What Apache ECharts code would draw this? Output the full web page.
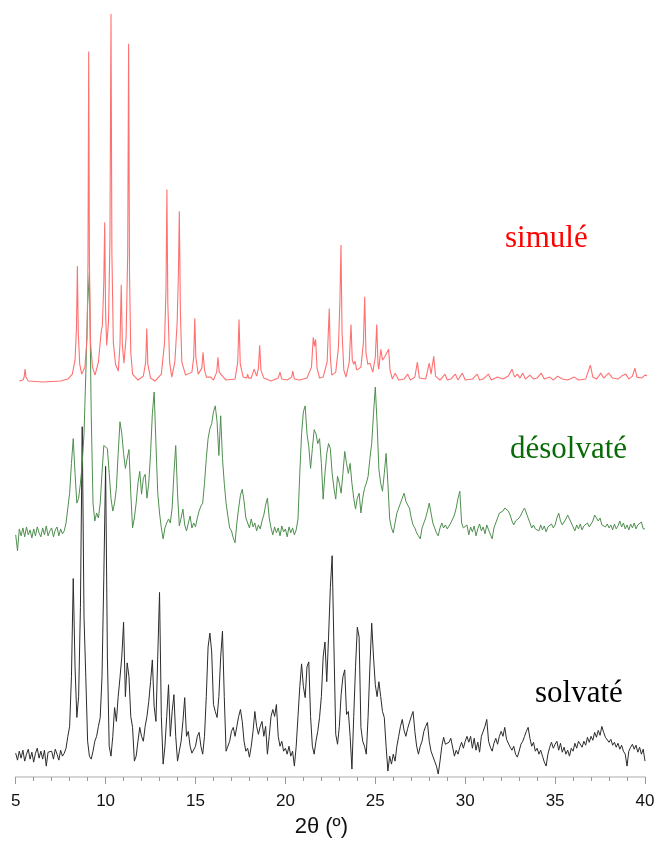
<!DOCTYPE html>
<html lang="fr">
<head>
    <meta charset="UTF-8">
    <title>DRX - simulé / désolvaté / solvaté</title>
    <style>
        html, body { margin: 0; padding: 0; background: #fff; }
    </style>
</head>
<body>
    <div id="main" style="width: 658px;height:843px;"></div>

    <script src="https://cdn.jsdelivr.net/npm/echarts@6/dist/echarts.min.js"></script>
    <script>
        // x ticks
        const xTicks = [5, 10, 15, 20, 25, 30, 35, 40];

        // simulated pattern: [2theta, intensity]
        const simule = [
            [5.2,1],[5.4,2],[5.47,5],[5.52,13],[5.57,5],[5.7,1],[6.5,0],[7.5,1],[7.9,3],[8.15,8],
            [8.3,22],[8.38,55],[8.43,117],[8.48,50],[8.56,18],[8.67,8],[8.85,15],[8.97,45],[9.02,120],[9.06,333],
            [9.1,120],[9.16,40],[9.27,15],[9.41,7],[9.6,20],[9.75,50],[9.82,57],[9.9,100],[9.95,161],[10.0,70],
            [10.06,37],[10.16,60],[10.24,140],[10.3,371],[10.35,130],[10.43,40],[10.55,18],[10.71,11],[10.8,38],[10.87,98],
            [10.93,38],[11.02,19],[11.14,45],[11.23,130],[11.28,341],[11.33,110],[11.4,30],[11.5,8],[11.8,2],[12.1,6],
            [12.23,20],[12.29,54],[12.35,18],[12.5,4],[12.75,1],[13.1,8],[13.28,40],[13.36,95],[13.41,194],[13.46,80],
            [13.56,20],[13.68,5],[13.85,20],[13.98,60],[14.05,110],[14.1,172],[14.16,70],[14.24,20],[14.32,15],[14.45,7],
            [14.8,10],[14.9,25],[14.96,64],[15.02,25],[15.15,8],[15.35,14],[15.42,30],[15.5,12],[15.61,5],[15.85,5],
            [16.0,2],[16.18,10],[16.25,25],[16.32,10],[16.38,8],[16.55,5],[16.7,2],[17.2,3],[17.35,20],[17.42,63],
            [17.49,18],[17.65,5],[17.85,4],[17.9,8],[17.96,4],[18.1,4],[18.26,13],[18.4,6],[18.5,14],[18.57,37],
            [18.64,12],[18.8,4],[19.2,1],[19.6,4],[19.7,10],[19.8,3],[20.1,2],[20.35,5],[20.41,11],[20.5,3],
            [20.8,2],[21.2,4],[21.45,15],[21.55,45],[21.62,36],[21.68,43],[21.76,14],[21.9,4],[22.1,5],[22.32,20],
            [22.44,74],[22.5,25],[22.58,7],[22.8,10],[22.95,35],[23.03,80],[23.09,138],[23.15,50],[23.25,12],[23.37,5],
            [23.55,20],[23.65,58],[23.72,22],[23.8,18],[23.87,21],[23.97,12],[24.2,15],[24.34,40],[24.41,86],[24.48,30],
            [24.58,18],[24.7,19],[24.86,10],[25.0,25],[25.08,58],[25.15,18],[25.19,13],[25.31,33],[25.4,22],[25.54,26],
            [25.65,25],[25.74,33],[25.82,12],[25.95,3],[26.1,9],[26.3,2],[26.6,3],[26.8,8],[26.95,2],[27.2,5],
            [27.34,20],[27.45,4],[27.8,3],[28.0,19],[28.1,8],[28.25,26],[28.35,6],[28.6,2],[28.88,8],[29.0,2],
            [29.2,3],[29.45,8],[29.6,2],[29.84,9],[30.0,2],[30.4,3],[30.67,8],[30.8,2],[31.0,3],[31.29,8],
            [31.45,2],[31.8,5],[32.1,3],[32.4,6],[32.6,13],[32.75,5],[32.9,8],[33.05,4],[33.2,9],[33.35,3],
            [33.6,7],[33.8,3],[34.0,4],[34.22,9],[34.4,3],[34.7,5],[34.9,2],[35.14,6],[35.4,3],[35.7,2],
            [36.07,5],[36.3,2],[36.7,3],[36.96,17],[37.1,5],[37.3,3],[37.54,9],[37.7,4],[37.98,9],[38.2,4],
            [38.5,3],[38.7,6],[38.93,8],[39.1,3],[39.3,6],[39.44,14],[39.55,5],[39.8,4],[40.0,7],[40.1,5],
            [40.2,6]
        ];

        // measured patterns, one value every 0.1 deg from 5.0 to 40.0 (one row per degree)
        const scanStart = 5.0;
        const scanStep = 0.1;

        const desolvate = [
            -2, -18, 4, -3, 5, -4, 6, -2, 3, -5,
            4, -3, 6, 0, -4, 5, -2, 7, -3, 2,
            5, -4, 3, 6, -3, 4, -1, 2, 10, 25,
            40, 70, 95, 60, 30, 35, 50, 70, 100, 160,
            230, 262, 120, 30, 12, 20, 15, 30, 60, 88,
            90, 85, 60, 35, 22, 30, 45, 80, 112, 100,
            80, 65, 75, 84, 40, 5, 15, 30, 50, 62,
            39, 55, 59, 35, 50, 80, 120, 142, 90, 40,
            20, 5, -6, 5, 10, 14, 10, 25, 60, 88,
            40, 7, 15, 24, 8, 2, 10, 17, 5, 10,
            6, 15, 22, 27, 30, 50, 75, 95, 105, 110,
            122, 128, 112, 78, 118, 75, 50, 30, 17, 5,
            2, -5, -10, 10, 25, 38, 44, 32, 15, 10,
            5, 14, 6, 10, 2, 8, 4, 12, 18, 28,
            35, 15, 5, -2, 6, 0, 5, -3, 7, 1,
            4, -4, 6, 0, 5, -2, 3, 14, 60, 100,
            122, 128, 100, 87, 65, 85, 104, 100, 90, 95,
            70, 34, 60, 80, 90, 85, 60, 45, 34, 57,
            50, 40, 60, 82, 70, 60, 70, 50, 35, 24,
            35, 40, 20, 35, 45, 50, 57, 75, 90, 120,
            147, 110, 64, 50, 42, 60, 80, 50, 14, 5,
            0, 10, 20, 25, 30, 35, 40, 32, 28, 25,
            15, 8, 5, 0, -3, -6, 5, 10, 15, 22,
            30, 20, 10, 5, 0, -3, 5, 10, 5, 8,
            4, 6, 10, 12, 18, 25, 35, 42, 10, 5,
            3, 8, -2, 6, 1, 7, -3, 4, 9, 2,
            6, -1, 8, 3, 5, -6, 5, 10, 15, 20,
            18, 22, 25, 27, 22, 18, 12, 8, 12, 10,
            15, 18, 22, 25, 27, 15, 10, 5, 8, 4,
            6, 2, 8, 3, 7, 1, 6, 4, 9, 5,
            8, 15, 20, 12, 8, 10, 14, 18, 20, 10,
            6, 2, 8, 4, 9, 3, 7, 5, 10, 6,
            8, 12, 18, 20, 12, 15, 8, 10, 6, 9,
            5, 8, 3, 9, 4, 7, 12, 6, 10, 4,
            8, 3, 9, 5, 10, 4, 8, 6, 11, 4,
            4
        ];

        const solvate = [
            3, -4, 5, -2, 6, -5, 2, 7, -3, 4,
            -6, 3, 8, -2, 5, -3, 6, -10, 4, 2,
            5, -3, 7, 2, -4, 6, 0, 3, 8, 20,
            30, 80, 179, 90, 39, 60, 150, 332, 140, 79,
            15, 0, -3, 5, 15, 20, 30, 39, 80, 180,
            292, 100, 10, 0, 20, 49, 35, 60, 79, 100,
            135, 60, 94, 80, 40, 29, -5, 0, 15, 29,
            20, 15, 30, 40, 55, 75, 97, 50, 35, 100,
            165, 40, -8, 10, 40, 72, 20, 45, 62, 20,
            -5, 5, 15, 35, 59, 20, 25, 10, 3, 2,
            10, 20, 24, 10, 2, 20, 60, 110, 124, 105,
            52, 45, 39, 60, 100, 126, 60, 5, 10, 15,
            25, 29, 20, 30, 40, 47, 35, 15, 5, 8,
            -1, 10, 25, 45, 30, 22, 30, 35, 20, 30,
            2, 20, 40, 47, 40, 52, 20, 10, 15, 5,
            8, 2, 10, 0, 5, -10, 10, 40, 70, 93,
            70, 59, 90, 95, 40, 10, 2, 15, 25, 39,
            60, 100, 115, 75, 120, 170, 202, 110, 22, 12,
            30, 62, 80, 87, 42, 45, 20, -13, 40, 90,
            130, 120, 29, 15, 10, 2, 40, 90, 134, 100,
            72, 60, 75, 60, 45, 39, 10, -15, 0, -8,
            2, -5, 10, 20, 30, 37, 26, 20, 28, 30,
            40, 45, 25, 10, 2, 10, 15, 25, 30, 34,
            15, 5, 0, -5, -10, -18, -5, 10, 19, 12,
            10, 14, 18, 20, 0, 6, 2, 9, 14, 8,
            15, 20, 14, 20, 8, 18, 6, 14, 4, 20,
            25, 30, 37, 15, 9, 5, 13, 18, 12, 20,
            25, 20, 29, 17, 18, 9, 6, 10, 2, -1,
            5, 12, 15, 20, 25, 29, 18, 10, 14, 5,
            8, 2, 6, 0, -6, -10, 2, 9, 14, 8,
            12, 15, 6, 13, 4, 9, 2, 6, 0, 8,
            5, 13, 8, 15, 17, 9, 15, 11, 19, 14,
            20, 16, 24, 19, 26, 21, 30, 24, 19, 17,
            14, 17, 11, 14, 9, 13, 7, 11, 5, 2,
            -10, 5, 9, 12, 7, 11, 4, 9, 2, 7,
            -5
        ];

        const names = ['simulé', 'désolvaté', 'solvaté'];

        // vertical offsets of each trace (stacked plot)
        const offsets = { simule: 398, desolvate: 246, solvate: 21 };

        function fromScan(values, offset) {
            return values.map((v, i) => [Math.round((scanStart + i * scanStep) * 100) / 100, v + offset]);
        }

        const chart = echarts.init(document.getElementById('main'));

        const serif = '"Liberation Serif", "Times New Roman", serif';
        const sans = '"Liberation Sans", Arial, sans-serif';

        const option = {
            animation: false,
            grid: { left: 15.7, right: 13, top: 0, bottom: 60 },
            xAxis: {
                type: 'value',
                min: 5,
                max: 40,
                interval: 5,
                name: '2θ (º)',
                nameLocation: 'middle',
                nameGap: 39,
                nameTextStyle: {
                    fontFamily: sans,
                    fontSize: 22,
                    color: '#111',
                    padding: [0, 18, 0, 0]
                },
                axisLine: { lineStyle: { color: '#c8c8c8', width: 1.5 } },
                axisTick: { length: 7, lineStyle: { color: '#999' } },
                minorTick: { show: true, splitNumber: 5, length: 4, lineStyle: { color: '#999' } },
                splitLine: { show: false },
                axisLabel: {
                    margin: 16,
                    fontFamily: sans,
                    fontSize: 17,
                    color: '#111',
                    formatter: v => (xTicks.indexOf(v) >= 0 ? String(v) : '')
                }
            },
            yAxis: {
                type: 'value',
                min: 0,
                max: 783,
                show: false,
                splitLine: { show: false }
            },
            series: [
                {
                    name: names[0],
                    type: 'line',
                    showSymbol: false,
                    data: simule.map(([x, v]) => [x, v + offsets.simule]),
                    lineStyle: { color: '#ff7070', width: 1.1 },
                    z: 3
                },
                {
                    name: names[1],
                    type: 'line',
                    showSymbol: false,
                    data: fromScan(desolvate, offsets.desolvate),
                    lineStyle: { color: '#4f8f4f', width: 1 },
                    z: 2
                },
                {
                    name: names[2],
                    type: 'line',
                    showSymbol: false,
                    data: fromScan(solvate, offsets.solvate),
                    lineStyle: { color: '#2b2b2b', width: 1 },
                    z: 1
                }
            ],
            graphic: [
                {
                    type: 'text', left: 505, top: 223,
                    style: { text: names[0], font: '31px ' + serif, fill: '#ff0000' }
                },
                {
                    type: 'text', left: 510, top: 434,
                    style: { text: names[1], font: '31px ' + serif, fill: '#086b08' }
                },
                {
                    type: 'text', left: 535, top: 678,
                    style: { text: names[2], font: '31px ' + serif, fill: '#000' }
                }
            ]
        };

        chart.setOption(option);
    </script>
</body>
</html>
